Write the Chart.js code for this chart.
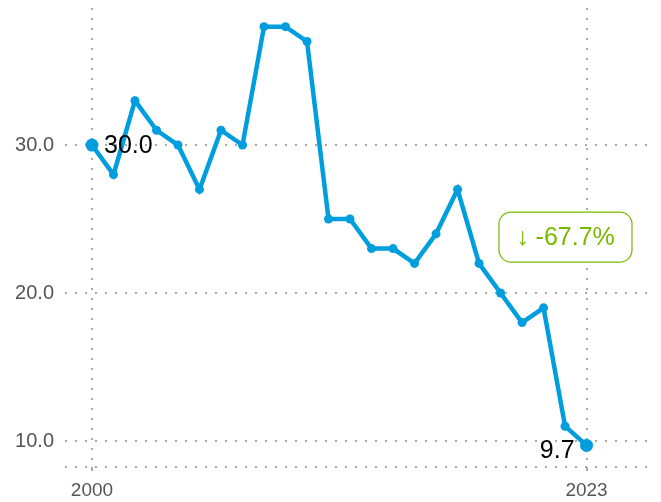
<!DOCTYPE html>
<html>
<head>
<meta charset="utf-8">
<script src="https://cdn.jsdelivr.net/npm/chart.js@4/dist/chart.umd.min.js"></script>
<style>
  html, body { margin: 0; padding: 0; background: #fff; }
  #wrap { width: 661px; height: 502px; }
</style>
</head>
<body>
<div id="wrap"><canvas id="lineChart" width="661" height="502"></canvas></div>
<script>
// data
const years = [2000, 2001, 2002, 2003, 2004, 2005, 2006, 2007, 2008, 2009, 2010, 2011,
               2012, 2013, 2014, 2015, 2016, 2017, 2018, 2019, 2020, 2021, 2022, 2023];
const values = [30.0, 28, 33, 31, 30, 27, 31, 30, 38, 38, 37, 25,
                25, 23, 23, 22, 24, 27, 22, 20, 18, 19, 11, 9.7];
const xTicks = [2000, 2023];
const yTicks = [10, 20, 30];
const changeLabel = '↓ -67.7%';

const yMin = 8.243;
const yMax = 39.26;

const blue = '#009ede';
const gridGray = '#a8a8a8';
const tickGray = '#555555';
const green = '#77b800';
const fontFamily = '"Liberation Sans", Arial, sans-serif';

const points = years.map((y, i) => ({ x: y, y: values[i] }));
const last = values.length - 1;

// first/last value labels plus the change badge
const labelPlugin = {
    id: 'labels',
    afterDatasetsDraw(chart) {
        const ctx = chart.ctx;
        const xs = chart.scales.x, ys = chart.scales.y;
        ctx.save();
        ctx.font = '25px ' + fontFamily;
        ctx.fillStyle = '#000';
        ctx.textBaseline = 'middle';

        ctx.textAlign = 'left';
        ctx.fillText(values[0].toFixed(1), xs.getPixelForValue(years[0]) + 12, ys.getPixelForValue(values[0]) + 1);

        ctx.textAlign = 'right';
        ctx.fillText(values[last].toFixed(1), xs.getPixelForValue(years[last]) - 12, ys.getPixelForValue(values[last]) + 6);

        // badge
        const cx = xs.getPixelForValue(2022.02), cy = ys.getPixelForValue(23.78);
        const w = 133, h = 50, r = 12;
        ctx.beginPath();
        ctx.roundRect(cx - w / 2, cy - h / 2, w, h, r);
        ctx.fillStyle = '#fff';
        ctx.fill();
        ctx.strokeStyle = green;
        ctx.lineWidth = 1.2;
        ctx.stroke();
        ctx.fillStyle = green;
        ctx.textAlign = 'center';
        ctx.font = '25px ' + fontFamily;
        ctx.fillText(changeLabel, cx, cy + 1);
        ctx.restore();
    }
};

const ctx = document.getElementById('lineChart').getContext('2d');
const lineChart = new Chart(ctx, {
    type: 'line',
    data: {
        datasets: [
            {
                data: points,
                borderColor: blue,
                backgroundColor: blue,
                borderWidth: 4.5,
                pointRadius: values.map((v, i) => (i === 0 || i === last) ? 6.5 : 4.5),
                pointBorderWidth: 0,
                tension: 0,
            },
        ],
    },
    options: {
        responsive: false,
        animation: false,
        layout: { padding: { top: 8, right: 6, left: 0, bottom: 0 } },
        plugins: {
            legend: { display: false },
            tooltip: { enabled: false },
        },
        scales: {
            x: {
                type: 'linear',
                min: 1998.745,
                max: 2026.16,
                afterBuildTicks: (scale) => { scale.ticks = xTicks.map(v => ({ value: v })); },
                afterFit: (scale) => {
                    scale.height = 35;
                    scale.paddingLeft = 0;
                    scale.paddingRight = 0;
                },
                ticks: {
                    color: tickGray,
                    font: { family: fontFamily, size: 19 },
                    padding: 8,
                    maxRotation: 0,
                    callback: (v) => String(v),
                },
                grid: {
                    color: gridGray,
                    lineWidth: 2,
                    drawTicks: true,
                    tickLength: 4,
                },
                border: { display: false, dash: [2, 8] },
            },
            y: {
                min: yMin,
                max: yMax,
                // the bottom dotted line is the grid line at the axis minimum
                afterBuildTicks: (scale) => { scale.ticks = [yMin].concat(yTicks).map(v => ({ value: v })); },
                afterFit: (scale) => {
                    scale.width = 65;
                    scale.paddingTop = 0;
                    scale.paddingBottom = 0;
                },
                ticks: {
                    color: tickGray,
                    font: { family: fontFamily, size: 20 },
                    padding: 11,
                    callback: (v) => yTicks.includes(v) ? v.toFixed(1) : '',
                },
                grid: {
                    color: gridGray,
                    lineWidth: 2,
                    drawTicks: false,
                },
                border: { display: false, dash: [2, 8] },
            },
        },
    },
    plugins: [labelPlugin],
});
</script>
</body>
</html>
